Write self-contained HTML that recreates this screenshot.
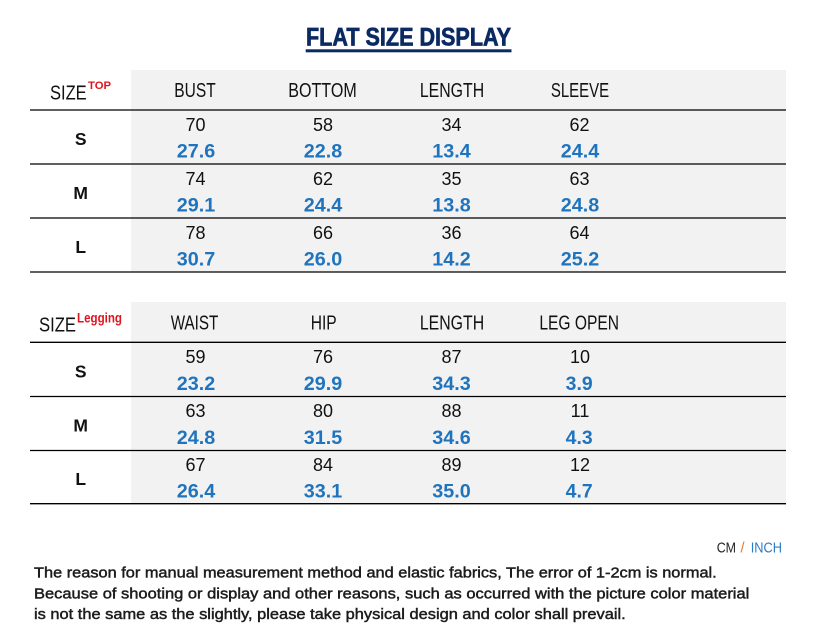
<!DOCTYPE html>
<html>
<head>
<meta charset="utf-8">
<style>
html,body{margin:0;padding:0;background:#fff;}
svg{display:block;}
text{font-family:"Liberation Sans",Arial,sans-serif;}
</style>
</head>
<body>
<svg width="816" height="642" viewBox="0 0 816 642" xmlns="http://www.w3.org/2000/svg">
<rect width="816" height="642" fill="#fff"/>
<!-- Title -->
<text x="408.5" y="45.7" text-anchor="middle" font-size="25" font-weight="bold" fill="#0b2a63" stroke="#0b2a63" stroke-width="0.7" textLength="205" lengthAdjust="spacingAndGlyphs">FLAT SIZE DISPLAY</text>
<rect x="305.7" y="49.3" width="205.8" height="3" fill="#0b2a63"/>

<!-- Table 1 -->
<rect x="131" y="70" width="655" height="202" fill="#f2f2f2"/>
<g fill="#111" font-size="20">
<text x="50" y="99.5" textLength="36.7" lengthAdjust="spacingAndGlyphs">SIZE</text>
<text x="195" y="97" text-anchor="middle" textLength="41.4" lengthAdjust="spacingAndGlyphs">BUST</text>
<text x="322.5" y="97" text-anchor="middle" textLength="68.4" lengthAdjust="spacingAndGlyphs">BOTTOM</text>
<text x="452" y="97" text-anchor="middle" textLength="64.3" lengthAdjust="spacingAndGlyphs">LENGTH</text>
<text x="580" y="97" text-anchor="middle" textLength="58.3" lengthAdjust="spacingAndGlyphs">SLEEVE</text>
</g>
<text x="88" y="89" font-size="11" font-weight="bold" fill="#e0141e" textLength="23" lengthAdjust="spacingAndGlyphs">TOP</text>
<g stroke="#000" stroke-width="1.3">
<line x1="30" y1="110" x2="786" y2="110"/>
<line x1="30" y1="164" x2="786" y2="164"/>
<line x1="30" y1="218" x2="786" y2="218"/>
<line x1="30" y1="272" x2="786" y2="272"/>
</g>
<!-- sizes -->
<g font-size="17.5" font-weight="bold" fill="#111" text-anchor="middle">
<text x="80.7" y="145">S</text>
<text x="80.7" y="199">M</text>
<text x="80.7" y="253">L</text>
</g>
<!-- cm -->
<g font-size="18" fill="#111" text-anchor="middle">
<text x="195.5" y="131">70</text><text x="323" y="131">58</text><text x="451.5" y="131">34</text><text x="579.5" y="131">62</text>
<text x="195.5" y="185">74</text><text x="323" y="185">62</text><text x="451.5" y="185">35</text><text x="579.5" y="185">63</text>
<text x="195.5" y="239">78</text><text x="323" y="239">66</text><text x="451.5" y="239">36</text><text x="579.5" y="239">64</text>
</g>
<!-- inch -->
<g font-size="19" font-weight="bold" fill="#1f74bd" text-anchor="middle">
<text x="196" y="157.6" textLength="38.5" lengthAdjust="spacingAndGlyphs">27.6</text>
<text x="323" y="157.6" textLength="38.5" lengthAdjust="spacingAndGlyphs">22.8</text>
<text x="451.5" y="157.6" textLength="38.5" lengthAdjust="spacingAndGlyphs">13.4</text>
<text x="580" y="157.6" textLength="38.5" lengthAdjust="spacingAndGlyphs">24.4</text>
<text x="196" y="211.6" textLength="38.5" lengthAdjust="spacingAndGlyphs">29.1</text>
<text x="323" y="211.6" textLength="38.5" lengthAdjust="spacingAndGlyphs">24.4</text>
<text x="451.5" y="211.6" textLength="38.5" lengthAdjust="spacingAndGlyphs">13.8</text>
<text x="580" y="211.6" textLength="38.5" lengthAdjust="spacingAndGlyphs">24.8</text>
<text x="196" y="265.6" textLength="38.5" lengthAdjust="spacingAndGlyphs">30.7</text>
<text x="323" y="265.6" textLength="38.5" lengthAdjust="spacingAndGlyphs">26.0</text>
<text x="451.5" y="265.6" textLength="38.5" lengthAdjust="spacingAndGlyphs">14.2</text>
<text x="580" y="265.6" textLength="38.5" lengthAdjust="spacingAndGlyphs">25.2</text>
</g>

<!-- Table 2 -->
<rect x="131" y="302" width="655" height="202" fill="#f2f2f2"/>
<g fill="#111" font-size="20">
<text x="39" y="331.7" textLength="37" lengthAdjust="spacingAndGlyphs">SIZE</text>
<text x="194.5" y="329.7" text-anchor="middle" textLength="47.6" lengthAdjust="spacingAndGlyphs">WAIST</text>
<text x="323.7" y="329.7" text-anchor="middle" textLength="26" lengthAdjust="spacingAndGlyphs">HIP</text>
<text x="452" y="329.7" text-anchor="middle" textLength="64.3" lengthAdjust="spacingAndGlyphs">LENGTH</text>
<text x="579.2" y="329.7" text-anchor="middle" textLength="79.7" lengthAdjust="spacingAndGlyphs">LEG OPEN</text>
</g>
<text x="77" y="322.7" font-size="13.5" font-weight="bold" fill="#e0141e" textLength="45" lengthAdjust="spacingAndGlyphs">Legging</text>
<g stroke="#000" stroke-width="1.3">
<line x1="30" y1="342.3" x2="786" y2="342.3"/>
<line x1="30" y1="396.5" x2="786" y2="396.5"/>
<line x1="30" y1="450.5" x2="786" y2="450.5"/>
<line x1="30" y1="503.7" x2="786" y2="503.7"/>
</g>
<g font-size="17.5" font-weight="bold" fill="#111" text-anchor="middle">
<text x="80.7" y="377.3">S</text>
<text x="80.7" y="431.5">M</text>
<text x="80.7" y="485">L</text>
</g>
<g font-size="18" fill="#111" text-anchor="middle">
<text x="195.5" y="363">59</text><text x="323" y="363">76</text><text x="451.5" y="363">87</text><text x="580" y="363">10</text>
<text x="195.5" y="417.2">63</text><text x="323" y="417.2">80</text><text x="451.5" y="417.2">88</text><text x="580" y="417.2">11</text>
<text x="195.5" y="471">67</text><text x="323" y="471">84</text><text x="451.5" y="471">89</text><text x="580" y="471">12</text>
</g>
<g font-size="19" font-weight="bold" fill="#1f74bd" text-anchor="middle">
<text x="196" y="389.8" textLength="38.5" lengthAdjust="spacingAndGlyphs">23.2</text>
<text x="323" y="389.8" textLength="38.5" lengthAdjust="spacingAndGlyphs">29.9</text>
<text x="451.5" y="389.8" textLength="38.5" lengthAdjust="spacingAndGlyphs">34.3</text>
<text x="579.2" y="389.8" textLength="27" lengthAdjust="spacingAndGlyphs">3.9</text>
<text x="196" y="444" textLength="38.5" lengthAdjust="spacingAndGlyphs">24.8</text>
<text x="323" y="444" textLength="38.5" lengthAdjust="spacingAndGlyphs">31.5</text>
<text x="451.5" y="444" textLength="38.5" lengthAdjust="spacingAndGlyphs">34.6</text>
<text x="579.2" y="444" textLength="27" lengthAdjust="spacingAndGlyphs">4.3</text>
<text x="196" y="497.5" textLength="38.5" lengthAdjust="spacingAndGlyphs">26.4</text>
<text x="323" y="497.5" textLength="38.5" lengthAdjust="spacingAndGlyphs">33.1</text>
<text x="451.5" y="497.5" textLength="38.5" lengthAdjust="spacingAndGlyphs">35.0</text>
<text x="579.2" y="497.5" textLength="27" lengthAdjust="spacingAndGlyphs">4.7</text>
</g>

<!-- Units -->
<g font-size="14.5">
<text x="716.7" y="552.3" fill="#222" textLength="19.3" lengthAdjust="spacingAndGlyphs">CM</text>
<text x="740.5" y="552.3" fill="#e87a2b">/</text>
<text x="750.7" y="552.3" fill="#2a7cc7" textLength="31.3" lengthAdjust="spacingAndGlyphs">INCH</text>
</g>

<!-- Footer -->
<g font-size="14.5" fill="#1c1c1c" stroke="#1c1c1c" stroke-width="0.45">
<text x="34" y="577.7" textLength="682.7" lengthAdjust="spacingAndGlyphs">The reason for manual measurement method and elastic fabrics, The error of 1-2cm is normal.</text>
<text x="34" y="598.3" textLength="715.3" lengthAdjust="spacingAndGlyphs">Because of shooting or display and other reasons, such as occurred with the picture color material</text>
<text x="34" y="619" textLength="591.7" lengthAdjust="spacingAndGlyphs">is not the same as the slightly, please take physical design and color shall prevail.</text>
</g>
</svg>
</body>
</html>
